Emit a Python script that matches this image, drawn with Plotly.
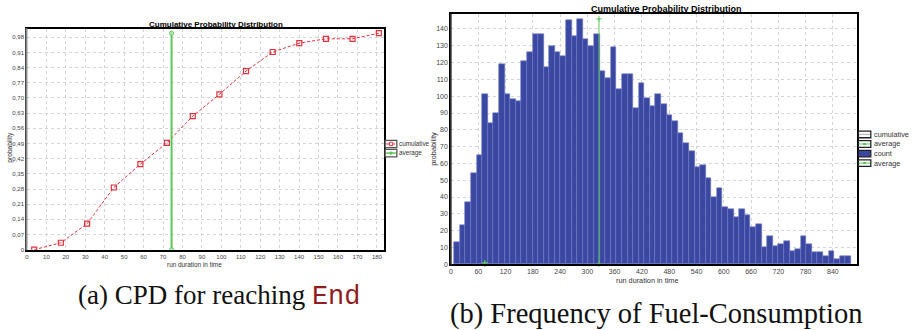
import plotly.graph_objects as go
import numpy as np

W, H = 915, 330

# ---------------- data: (a) cumulative probability ----------------
CPD_X = [3.75, 17.45, 30.95, 44.7, 58.35, 72.0, 85.3, 99.0, 112.7, 126.4, 140.1, 153.8, 167.5, 181.0]
CPD_Y = [0.0, 0.032, 0.12, 0.287, 0.395, 0.493, 0.616, 0.717, 0.824, 0.912, 0.953, 0.973, 0.973, 0.999]
CPD_AVG_X = [74.4, 74.4]
CPD_AVG_Y = [0.0, 0.999]

X1_TICKS = [0, 10, 20, 30, 40, 50, 60, 70, 80, 90, 100, 110, 120, 130, 140, 150, 160, 170, 180]
Y1_TICKS = [0, 0.07, 0.14, 0.21, 0.28, 0.35, 0.42, 0.49, 0.56, 0.63, 0.70, 0.77, 0.84, 0.91, 0.98]
Y1_LABELS = ["0", "0,07", "0,14", "0,21", "0,28", "0,35", "0,42", "0,49", "0,56", "0,63",
             "0,70", "0,77", "0,84", "0,91", "0,98"]

# ---------------- data: (b) frequency histogram ----------------
BIN_START = 7.3
BIN_WIDTH = 12.29
COUNTS = [13, 23, 37, 54, 65, 101, 84, 90, 119, 101,
          98, 97, 121, 126, 137, 137, 117, 130, 126, 124,
          145, 136, 146, 134, 130, 137, 115, 111, 129, 104,
          113, 113, 93, 108, 99, 94, 101, 95, 89, 85,
          78, 72, 67, 58, 59, 51, 40, 45, 34, 33,
          28, 33, 29, 22, 24, 10, 17, 11, 12, 14,
          8, 9, 17, 12, 7, 7, 5, 8, 3, 5,
          5]
FREQ_AVG_X = [325.5, 325.5]
FREQ_AVG_Y = [0, 146]

X2_TICKS = [0, 60, 120, 180, 240, 300, 360, 420, 480, 540, 600, 660, 720, 780, 840]
Y2_TICKS = [0, 10, 20, 30, 40, 50, 60, 70, 80, 90, 100, 110, 120, 130, 140]

TITLE = "Cumulative Probability Distribution"
XTITLE = "run duration in time"
YTITLE = "probability"

RED = "#e3313d"
GREEN = "#5cc65c"
BLUE = "#3b48a2"
BAR_EDGE = "#6d77c4"
SANS = "Liberation Sans, Arial, sans-serif"
SERIF = "Liberation Serif, Times New Roman, serif"
MONO = "Liberation Mono, DejaVu Sans Mono, monospace"


def px(x):
    return x / W


def py(y):
    return 1 - y / H


bin_centers = BIN_START + BIN_WIDTH * (np.arange(len(COUNTS)) + 0.5)

fig = go.Figure()

# (a)
fig.add_trace(go.Scatter(x=CPD_X, y=CPD_Y, mode="lines+markers", xaxis="x", yaxis="y",
                         line=dict(color=RED, width=1, dash="3px,2px"),
                         marker=dict(symbol="square-open", size=5, color=RED, line=dict(width=1.2)),
                         name="cumulative", showlegend=False))
fig.add_trace(go.Scatter(x=CPD_AVG_X, y=CPD_AVG_Y, mode="lines+markers", xaxis="x", yaxis="y",
                         line=dict(color=GREEN, width=2),
                         marker=dict(symbol="circle", size=4, color="#b8ebb8", line=dict(color=GREEN, width=1)),
                         name="average", showlegend=False))

# (b)
fig.add_trace(go.Bar(x=bin_centers, y=COUNTS, width=BIN_WIDTH, xaxis="x2", yaxis="y2",
                     marker=dict(color=BLUE, line=dict(color=BAR_EDGE, width=0.6)),
                     name="count", showlegend=False))
fig.add_trace(go.Scatter(x=CPD_AVG_X, y=CPD_AVG_Y, mode="lines+markers", xaxis="x2", yaxis="y2",
                         line=dict(color=GREEN, width=1),
                         marker=dict(symbol="cross-thin", size=4, color=GREEN, line=dict(color=GREEN, width=1)),
                         name="average", showlegend=False, cliponaxis=False))
fig.add_trace(go.Scatter(x=FREQ_AVG_X, y=FREQ_AVG_Y, mode="lines+markers", xaxis="x2", yaxis="y2",
                         line=dict(color=GREEN, width=1),
                         marker=dict(symbol="cross-thin", size=4, color=GREEN, line=dict(color=GREEN, width=1)),
                         name="average", showlegend=False, cliponaxis=False))

grid = dict(showgrid=True, gridcolor="#d4d4d4", griddash="dot", gridwidth=1, zeroline=False,
            showline=True, mirror=True, linecolor="black", linewidth=1.5, ticks="")

fig.update_layout(
    width=W, height=H, margin=dict(l=0, r=0, t=0, b=0),
    paper_bgcolor="white", plot_bgcolor="white", showlegend=False, bargap=0,
    xaxis=dict(domain=[px(25), px(383.3)], range=[0, 183.9], tickvals=X1_TICKS,
               tickfont=dict(family=SANS, size=6, color="#444"), anchor="y", **grid),
    yaxis=dict(domain=[py(252), py(29.3)], range=[0, 1.018], tickvals=Y1_TICKS, ticktext=Y1_LABELS,
               tickfont=dict(family=SANS, size=6, color="#444"), anchor="x", **grid),
    xaxis2=dict(domain=[px(450), px(857.3)], range=[0, 894], tickvals=X2_TICKS,
                tickfont=dict(family=SANS, size=7, color="#444"), anchor="y2", **grid),
    yaxis2=dict(domain=[py(266.7), py(14.3)], range=[0, 148.8], tickvals=Y2_TICKS,
                tickfont=dict(family=SANS, size=7, color="#444"), anchor="x2", **grid),
)

shapes = []
annotations = []

# gray left axis lines
shapes.append(dict(type="line", xref="paper", yref="paper", x0=px(24.5), x1=px(24.5),
                   y0=py(252.5), y1=py(28.5), line=dict(color="#888", width=2)))
shapes.append(dict(type="line", xref="paper", yref="paper", x0=px(450), x1=px(450),
                   y0=py(267), y1=py(14), line=dict(color="#444", width=1.5)))


def text(x, y, s, size, color="#222", anchor="left", bold=False, angle=0, family=SANS):
    if bold:
        s = "<b>" + s + "</b>"
    annotations.append(dict(x=px(x), y=py(y), xref="paper", yref="paper", text=s, showarrow=False,
                            xanchor=anchor, yanchor="middle", textangle=angle,
                            font=dict(family=family, size=size, color=color)))


# titles
text(214, 24.5, TITLE, 8, color="black", anchor="center", bold=True)
text(666, 9, TITLE, 9, color="black", anchor="center", bold=True)
text(193, 266.5, XTITLE, 6.4, color="#333", anchor="center")
text(646, 283.5, XTITLE, 7.3, color="#333", anchor="center")
text(8, 148, YTITLE, 6.6, color="#333", anchor="center", angle=-90)
text(433, 150, YTITLE, 7.3, color="#333", anchor="center", angle=-90)


def rect(x0, y0, x1, y1, fill="white", line="#555", lw=1.3):
    shapes.append(dict(type="rect", xref="paper", yref="paper", x0=px(x0), x1=px(x1),
                       y0=py(y1), y1=py(y0), fillcolor=fill, line=dict(color=line, width=lw)))


def hline(x0, x1, y, color, lw=1, dash="solid"):
    shapes.append(dict(type="line", xref="paper", yref="paper", x0=px(x0), x1=px(x1),
                       y0=py(y), y1=py(y), line=dict(color=color, width=lw, dash=dash)))


# legend (a)
rect(384, 141.7, 395.7, 149)
hline(385, 394.7, 145.3, RED, 1, "dot")
rect(388.3, 143.6, 391.5, 147, fill="white", line=RED, lw=1)
text(396.3, 145.3, "cumulative", 6.3, color="#333")
rect(384, 150.7, 395.7, 158.3)
hline(385, 394.7, 154.5, GREEN, 1.5)
rect(388.8, 153.3, 391, 155.7, fill=GREEN, line=GREEN, lw=0.5)
text(396.3, 154.5, "average", 6.3, color="#333")

# legend (b)
rect(858.3, 132.3, 870.7, 139, fill="white", line="#222")
hline(859, 870, 135.6, "#999", 0.8)
text(871.8, 135.6, "cumulative", 7.3, color="#333")
rect(858.3, 142, 870.7, 148.7, fill="white", line="#222")
hline(859, 870, 145.3, GREEN, 1)
hline(863, 866, 145.3, GREEN, 2)
text(871.8, 145.3, "average", 7.3, color="#333")
rect(858.3, 151.7, 870.7, 158.3, fill=BLUE, line="#222")
text(871.8, 155, "count", 7.3, color="#333")
rect(858.3, 161.3, 870.7, 168, fill="white", line="#222")
hline(859, 870, 164.6, GREEN, 1)
hline(863, 866, 164.6, GREEN, 2)
text(871.8, 164.6, "average", 7.3, color="#333")

# captions
annotations.append(dict(x=px(218), y=py(299), xref="paper", yref="paper", showarrow=False,
                        xanchor="center", yanchor="middle",
                        text="(a) CPD for reaching <span style='font-family:" + MONO + ";color:#8f1d1d'>End</span>",
                        font=dict(family=SERIF, size=27, color="#111")))
annotations.append(dict(x=px(655), y=py(317), xref="paper", yref="paper", showarrow=False,
                        xanchor="center", yanchor="middle",
                        text="(b) Frequency of Fuel-Consumption",
                        font=dict(family=SERIF, size=28.5, color="#111")))

fig.update_layout(shapes=shapes, annotations=annotations)
fig.write_html("out.html")
